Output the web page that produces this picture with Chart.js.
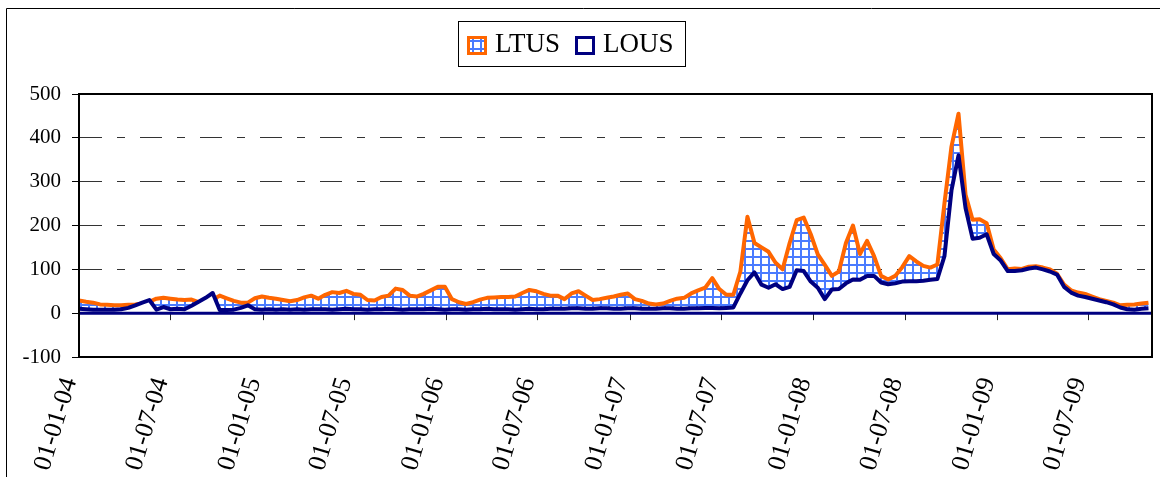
<!DOCTYPE html>
<html>
<head>
<meta charset="utf-8">
<script src="https://cdn.jsdelivr.net/npm/chart.js@4.4.1/dist/chart.umd.min.js"></script>
<style>
html,body{margin:0;padding:0;background:#fff;overflow:hidden}
#wrap{position:relative;width:1160px;height:477px}
</style>
</head>
<body>
<div id="wrap"><canvas id="c"></canvas></div>
<script>
// ---- data (fortnightly observations starting 2004-01-01) ----
const seriesNames = ['LTUS', 'LOUS'];
const startDate = '2004-01-01';
const stepDays = 14;
const axisEnd = '2009-11-05';
const tickLabels = ['01-01-04','01-07-04','01-01-05','01-07-05','01-01-06','01-07-06',
                    '01-01-07','01-07-07','01-01-08','01-07-08','01-01-09','01-07-09'];
const yTicks = [-100, 0, 100, 200, 300, 400, 500];

const ltus = [
  29,26,24,20,19,18,18,19,20,22,26,
  33,35,33,31,30,31,25,28,31,40,34,28,24,24,34,38,35,33,30,27,30,36,40,
  33,42,48,46,51,44,42,30,29,37,40,56,53,40,38,44,52,60,60,32,25,21,25,31,35,36,37,37,38,46,53,50,44,40,
  40,32,45,50,40,30,32,35,38,42,45,32,28,22,20,22,28,33,35,45,52,58,80,55,42,42,
  95,220,160,150,140,115,100,160,212,218,180,134,110,85,95,160,200,135,165,130,85,77,85,105,130,118,108,104,111,
  250,380,455,270,213,214,205,145,125,100,102,101,106,107,104,100,90,65,52,47,44,38,32,28,24,18,19,20,22,24
];
const lous = [
  10,9,8,8,8,8,9,12,18,24,30,
  8,14,9,10,9,17,26,35,46,7,7,8,12,18,9,8,9,8,9,8,9,8,9,
  9,9,8,9,10,9,9,8,9,9,10,9,8,9,9,9,10,9,8,9,9,8,9,9,10,9,9,9,8,9,10,9,9,10,
  10,10,11,11,10,10,11,11,10,10,11,11,10,10,10,11,11,10,10,11,11,12,12,11,12,13,
  45,75,93,65,58,66,55,60,98,96,72,58,32,54,55,68,77,76,85,85,70,66,68,72,73,73,74,76,78,
  130,280,360,240,170,172,180,135,120,96,96,98,102,104,100,95,88,60,47,40,37,33,29,25,20,13,9,8,10,11
];

// ---- helpers ----
const DAY = 86400000;
const t0 = Date.parse(startDate + 'T00:00:00Z');
function labelToDay(lbl) {
  const [dd, mm, yy] = lbl.split('-').map(Number);
  return Math.round((Date.UTC(2000 + yy, mm - 1, dd) - t0) / DAY);
}
const tickDays = tickLabels.map(labelToDay);
const xMax = Math.round((Date.parse(axisEnd + 'T00:00:00Z') - t0) / DAY);

const ORANGE = '#ff6600';
const NAVY = '#000080';
const SERIF = '"Liberation Serif", "Times New Roman", serif';

function makeGridPattern() {
  const p = document.createElement('canvas');
  p.width = 8; p.height = 8;
  const g = p.getContext('2d');
  g.fillStyle = '#ffffff'; g.fillRect(0, 0, 8, 8);
  g.fillStyle = '#4a7bff';
  g.fillRect(0, 0, 8, 2);
  g.fillRect(0, 0, 2, 8);
  return document.getElementById('c').getContext('2d').createPattern(p, 'repeat');
}
const gridPattern = makeGridPattern();

const toPoints = arr => arr.map((v, i) => ({ x: i * stepDays, y: v }));

const decor = {
  id: 'decor',
  beforeDraw(chart) {
    const ctx = chart.ctx;
    ctx.save();
    ctx.strokeStyle = '#000';
    ctx.lineWidth = 1;
    ctx.beginPath();
    ctx.moveTo(6.5, 477); ctx.lineTo(6.5, 8.5); ctx.lineTo(1160, 8.5);
    ctx.stroke();
    ctx.restore();
  },
  afterDatasetsDraw(chart) {
    const { ctx, chartArea: a, scales: { x, y } } = chart;
    const y0 = y.getPixelForValue(0);
    ctx.save();
    ctx.strokeStyle = '#222';
    ctx.lineWidth = 1;
    x.ticks.forEach(t => {
      const px = Math.round(x.getPixelForValue(t.value)) + 0.5;
      ctx.beginPath(); ctx.moveTo(px, y0); ctx.lineTo(px, y0 + 7); ctx.stroke();
    });
    ctx.strokeStyle = NAVY;
    ctx.lineWidth = 3;
    ctx.beginPath(); ctx.moveTo(a.left, y0); ctx.lineTo(a.right, y0); ctx.stroke();
    ctx.strokeStyle = '#000';
    ctx.lineWidth = 2;
    ctx.strokeRect(a.left, a.top, a.right - a.left, a.bottom - a.top);
    ctx.restore();
  },
  afterDraw(chart) {
    const ctx = chart.ctx;
    ctx.save();
    ctx.strokeStyle = '#000';
    ctx.lineWidth = 1;
    ctx.strokeRect(458.5, 21.5, 227, 45);
    const items = [
      { ds: chart.data.datasets[0], bx: 468.5, tx: 495 },
      { ds: chart.data.datasets[1], bx: 576.5, tx: 603 }
    ];
    ctx.font = '27px ' + SERIF;
    ctx.textBaseline = 'alphabetic';
    items.forEach(it => {
      ctx.fillStyle = it.ds.backgroundColor;
      ctx.fillRect(it.bx, 37.5, 17, 16);
      ctx.strokeStyle = it.ds.borderColor;
      ctx.lineWidth = 3;
      ctx.strokeRect(it.bx, 37.5, 17, 16);
      ctx.fillStyle = '#000';
      ctx.fillText(it.ds.label, it.tx, 52);
    });
    ctx.restore();
  }
};

new Chart(document.getElementById('c'), {
  type: 'line',
  data: {
    datasets: [
      {
        label: seriesNames[0], data: toPoints(ltus), order: 2,
        borderColor: ORANGE, backgroundColor: gridPattern, borderWidth: 4,
        fill: 'origin', pointRadius: 0, tension: 0, borderJoinStyle: 'round'
      },
      {
        label: seriesNames[1], data: toPoints(lous), order: 1,
        borderColor: NAVY, backgroundColor: '#ffffff', borderWidth: 4,
        fill: 'origin', pointRadius: 0, tension: 0, borderJoinStyle: 'round'
      }
    ]
  },
  options: {
    responsive: true,
    maintainAspectRatio: false,
    animation: false,
    events: [],
    layout: { padding: { top: 94, right: 8, left: 0, bottom: 0 } },
    plugins: { legend: { display: false }, tooltip: { enabled: false } },
    scales: {
      x: {
        type: 'linear', position: 'bottom', min: 0, max: xMax, bounds: 'data', offset: false,
        grid: { display: false, drawTicks: false },
        border: { display: true, color: '#000', width: 2 },
        ticks: {
          autoSkip: false, minRotation: 73, maxRotation: 73, padding: 17, labelOffset: -9,
          color: '#000', font: { family: SERIF, size: 26 },
          callback: v => { const k = tickDays.indexOf(v); return k >= 0 ? tickLabels[k] : ''; }
        },
        afterBuildTicks: s => { s.ticks = tickDays.map(d => ({ value: d })); },
        afterFit: s => { s.height = 120; }
      },
      y: {
        min: yTicks[0], max: yTicks[yTicks.length - 1],
        grid: {
          color: c => (c.tick && c.tick.value > 0 && c.tick.value < 500) ? '#333' : 'rgba(0,0,0,0)',
          lineWidth: 1, drawTicks: true, tickLength: 7, tickColor: '#000', tickWidth: 1
        },
        border: { display: true, color: '#000', width: 2, dash: [22, 15, 8, 15] },
        ticks: {
          stepSize: 100, padding: 11, color: '#000', font: { family: SERIF, size: 21 },
          callback: v => String(v)
        },
        afterBuildTicks: s => { s.ticks = yTicks.map(v => ({ value: v })); },
        afterFit: s => { s.width = 79; }
      }
    }
  },
  plugins: [decor]
});
</script>
</body>
</html>
